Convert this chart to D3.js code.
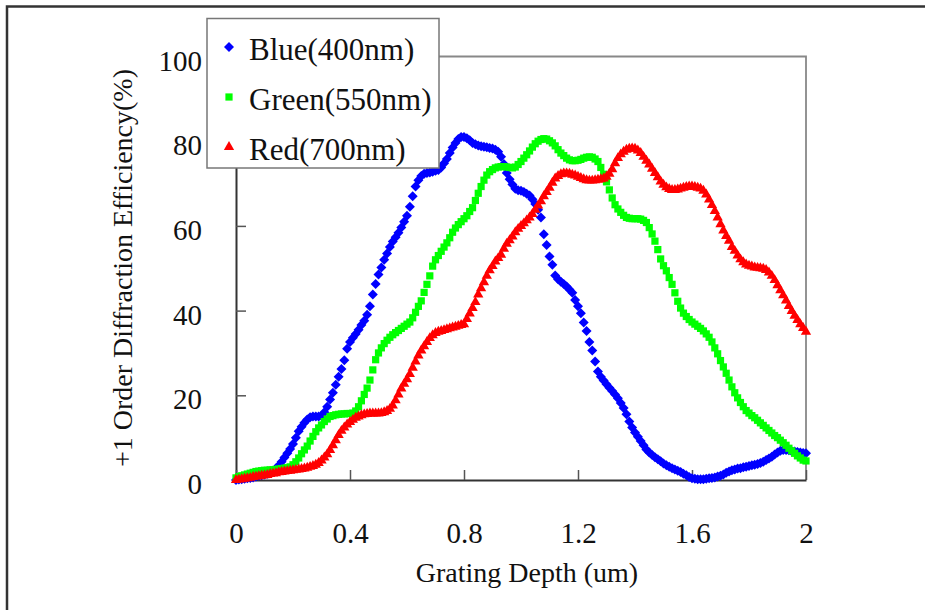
<!DOCTYPE html>
<html>
<head>
<meta charset="utf-8">
<script src="https://cdn.jsdelivr.net/npm/d3@7"></script>
<style>
  html, body { margin: 0; padding: 0; background: #fff; }
  svg { display: block; }
  text { font-family: "Liberation Serif", "Times New Roman", serif; fill: #111; }
</style>
</head>
<body>
<script>
// grating depth sampled every 0.01 um, 0 .. 2
const depthStep = 0.01

const seriesNames = ['Blue(400nm)', 'Green(550nm)', 'Red(700nm)']

const blue = [
  0.0,0.1,0.2,0.3,0.4,0.5,0.6,0.8,1.0,1.1,
  1.3,1.5,1.8,2.2,2.7,3.4,4.3,5.3,6.3,7.3,
  8.5,10.0,11.5,12.6,13.5,14.3,14.8,15.0,15.0,15.0,
  15.2,16.0,17.3,19.0,20.6,22.5,24.4,26.2,28.3,31.0,
  32.6,33.6,34.5,35.5,36.6,37.6,39.0,41.0,43.8,46.3,
  48.5,50.2,52.0,53.5,55.0,56.3,57.3,58.4,59.6,61.0,
  62.4,64.5,67.0,69.3,70.8,71.8,72.3,72.5,72.6,72.8,
  73.0,73.2,73.8,74.8,75.8,77.2,78.5,79.6,80.5,81.0,
  81.0,80.7,80.2,79.6,79.3,79.0,78.8,78.7,78.6,78.4,
  78.3,78.0,77.5,76.3,74.6,72.5,71.0,69.8,68.8,68.4,
  68.3,68.0,67.6,67.2,66.3,65.2,63.8,62.0,58.0,55.5,
  52.8,50.8,48.3,47.4,46.8,46.3,45.7,45.0,44.2,42.5,
  41.0,39.4,37.2,35.2,32.6,30.6,28.0,25.6,24.4,23.5,
  22.6,21.8,21.0,20.2,19.3,18.2,17.0,15.5,13.8,12.4,
  11.2,10.2,9.2,8.2,7.2,6.5,5.9,5.4,4.9,4.4,
  3.9,3.5,3.1,2.8,2.5,2.2,1.9,1.5,1.1,0.7,
  0.4,0.3,0.2,0.2,0.2,0.3,0.4,0.5,0.6,0.8,
  1.0,1.3,1.7,2.0,2.3,2.5,2.7,2.8,3.0,3.1,
  3.3,3.5,3.6,3.8,4.0,4.3,4.7,5.1,5.5,6.0,
  6.5,6.9,7.1,7.1,7.0,6.8,6.7,6.6,6.5,6.4,
  6.3
]

const green = [
  0.5,0.8,1.0,1.2,1.4,1.6,1.8,2.0,2.1,2.2,
  2.3,2.3,2.4,2.4,2.5,2.6,2.7,2.8,2.9,3.1,
  3.6,4.3,5.2,6.2,7.1,8.0,9.2,10.3,11.4,12.3,
  13.0,13.8,14.4,15.0,15.2,15.4,15.5,15.6,15.6,15.7,
  15.7,15.8,16.3,17.3,18.7,20.2,21.7,23.6,26.0,28.4,
  30.0,31.2,32.2,33.0,33.7,34.3,34.8,35.3,35.8,36.3,
  36.8,37.3,38.3,39.6,41.0,42.3,44.3,46.2,48.2,50.5,
  52.0,53.0,54.0,55.0,56.0,57.2,58.5,59.5,60.3,61.0,
  61.7,62.4,63.4,64.3,66.0,67.7,69.3,70.8,72.0,72.8,
  73.3,73.7,73.9,74.0,74.0,73.9,73.8,73.7,73.9,74.5,
  75.2,76.0,76.8,77.7,78.6,79.4,80.0,80.4,80.6,80.5,
  80.1,79.6,78.9,78.0,77.2,76.6,76.0,75.6,75.4,75.4,
  75.5,75.7,76.0,76.2,76.3,76.2,75.8,75.2,73.8,72.2,
  70.4,68.5,66.6,65.0,64.0,63.2,62.5,62.0,61.8,61.7,
  61.7,61.7,61.6,61.3,60.8,59.6,58.1,56.4,54.4,52.2,
  50.6,49.4,47.8,46.2,44.2,42.2,40.6,39.4,38.6,37.9,
  37.3,36.8,36.3,35.8,35.2,34.5,33.7,32.6,31.2,29.8,
  28.2,26.7,25.2,23.6,22.0,20.6,19.4,18.3,17.3,16.4,
  15.8,15.2,14.7,14.1,13.5,12.9,12.3,11.7,11.1,10.5,
  10.0,9.4,8.8,8.2,7.5,6.9,6.3,5.7,5.2,4.7,
  4.5
]

const red = [
  0.0,0.1,0.2,0.3,0.4,0.5,0.7,0.8,0.9,1.0,
  1.1,1.2,1.4,1.5,1.6,1.8,1.9,2.0,2.1,2.2,
  2.3,2.4,2.5,2.6,2.7,2.9,3.1,3.3,3.6,4.0,
  4.6,5.3,6.1,7.1,8.2,9.4,10.6,11.6,12.4,13.1,
  13.7,14.2,14.7,15.0,15.3,15.5,15.6,15.7,15.7,15.7,
  15.7,15.8,16.0,16.3,16.8,17.6,18.8,20.2,21.6,22.7,
  23.8,25.0,26.5,28.0,29.4,30.6,31.6,32.6,33.5,34.2,
  34.7,35.0,35.2,35.4,35.6,35.8,36.0,36.2,36.4,36.6,
  36.8,38.0,39.3,40.6,42.0,43.8,45.3,46.7,48.2,49.5,
  50.5,51.6,52.4,53.2,54.6,55.8,56.6,57.5,58.5,59.3,
  60.0,60.6,61.3,62.0,62.8,63.8,64.8,65.8,67.0,68.0,
  69.0,70.2,71.2,71.8,72.2,72.4,72.4,72.3,72.1,71.9,
  71.6,71.3,71.0,70.8,70.7,70.7,70.8,70.9,71.0,71.2,
  71.6,72.3,73.4,74.8,76.0,76.9,77.5,78.0,78.2,78.3,
  78.2,77.8,77.2,76.3,75.4,74.5,73.5,72.5,71.5,70.5,
  69.7,69.1,68.7,68.5,68.5,68.6,68.8,69.0,69.2,69.3,
  69.3,69.2,69.0,68.8,68.3,67.4,66.2,64.9,63.5,62.0,
  60.4,58.9,57.6,56.5,55.0,54.1,53.0,52.1,51.4,50.9,
  50.6,50.4,50.2,50.1,50.0,49.9,49.6,49.0,48.2,47.2,
  46.0,44.8,43.6,42.4,41.1,39.9,38.8,37.8,36.8,35.9,
  35.0
]

const xTicks = [0, 0.4, 0.8, 1.2, 1.6, 2]
const yTicks = [0, 20, 40, 60, 80, 100]

const W = 925
const H = 610
const margin = { left: 236, right: 806, top: 56.5, bottom: 480 }

const x = d3.scaleLinear().domain([0, 2]).range([margin.left, margin.right])
const y = d3.scaleLinear().domain([0, 100]).range([margin.bottom, margin.top])

const svg = d3.select('body')
  .append('svg')
  .attr('width', W)
  .attr('height', H)

// outer frame (only the top and left edges are in view)
svg.append('path')
  .attr('d', `M7,${H} L7,6.5 L${W},6.5`)
  .attr('fill', 'none')
  .attr('stroke', '#333')
  .attr('stroke-width', 2.5)

// plot area top / right border
svg.append('path')
  .attr('d', `M${margin.left},${margin.top} L${margin.right},${margin.top} L${margin.right},${margin.bottom}`)
  .attr('fill', 'none')
  .attr('stroke', '#888')
  .attr('stroke-width', 1.8)

// axes
const yAxis = d3.axisLeft(y)
  .tickValues(yTicks)
  .tickFormat(d => String(d))
  .tickSizeInner(-10)
  .tickSizeOuter(0)
  .tickPadding(34)

const xAxis = d3.axisBottom(x)
  .tickValues(xTicks)
  .tickFormat(d => String(d))
  .tickSizeInner(-10)
  .tickSizeOuter(0)
  .tickPadding(42)

const gy = svg.append('g')
  .attr('transform', `translate(${margin.left},0)`)
  .call(yAxis)
const gx = svg.append('g')
  .attr('transform', `translate(0,${margin.bottom})`)
  .call(xAxis)

;[gx, gy].forEach(g => {
  g.select('.domain').attr('stroke', '#333').attr('stroke-width', 2)
  g.selectAll('.tick line').attr('stroke', '#555').attr('stroke-width', 1.5)
  g.selectAll('.tick text')
    .attr('font-family', '"Liberation Serif", "Times New Roman", serif')
    .attr('font-size', 29)
    .attr('fill', '#111')
})
gy.selectAll('.tick text').attr('dy', '0.47em')

// axis titles
svg.append('text')
  .attr('x', 527)
  .attr('y', 582)
  .attr('text-anchor', 'middle')
  .attr('font-size', 28)
  .text('Grating Depth (um)')

svg.append('text')
  .attr('transform', 'translate(132,268) rotate(-90)')
  .attr('text-anchor', 'middle')
  .attr('font-size', 28)
  .text('+1 Order Diffraction Efficiency(%)')

// markers
const diamond = d3.symbol().type(d3.symbolSquare).size(50)
const square = d3.symbol().type(d3.symbolSquare).size(52)
const triangle = d3.symbol().type(d3.symbolTriangle).size(46)

const series = [
  { name: seriesNames[0], values: blue, color: '#0000ff', path: diamond(), rotate: 45 },
  { name: seriesNames[1], values: green, color: '#00ff00', path: square(), rotate: 0 },
  { name: seriesNames[2], values: red, color: '#ff0000', path: triangle(), rotate: 0 },
]

const plot = svg.append('g')
series.forEach(s => {
  plot.append('g')
    .selectAll('path')
    .data(s.values)
    .enter()
    .append('path')
    .attr('d', s.path)
    .attr('fill', s.color)
    .attr('transform', (d, i) => `translate(${x(i * depthStep)},${y(d)}) rotate(${s.rotate})`)
})

// legend
const legend = svg.append('g')
legend.append('rect')
  .attr('x', 207)
  .attr('y', 18.5)
  .attr('width', 232)
  .attr('height', 149.5)
  .attr('fill', '#fff')
  .attr('stroke', '#777')
  .attr('stroke-width', 1.5)

series.forEach((s, i) => {
  const cy = 47 + i * 50
  legend.append('path')
    .attr('d', s.path)
    .attr('fill', s.color)
    .attr('transform', `translate(229,${cy}) rotate(${s.rotate})`)
  legend.append('text')
    .attr('x', 249)
    .attr('y', cy + 13)
    .attr('font-size', 31)
    .text(s.name)
})
</script>
</body>
</html>
